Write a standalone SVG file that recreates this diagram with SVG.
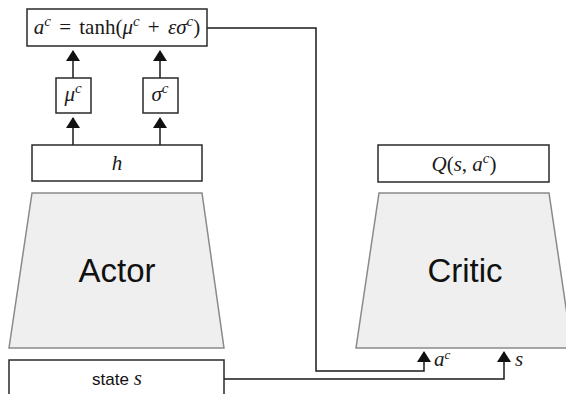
<svg xmlns="http://www.w3.org/2000/svg" width="566" height="394" viewBox="0 0 566 394">
<style>
.box{fill:#fff;stroke:#2a2a2a;stroke-width:1.5}
.net{fill:#efefef;stroke:#8a8a8a;stroke-width:1.5}
.conn{fill:none;stroke:#1a1a1a;stroke-width:1.5}
.m{font-family:"Liberation Serif",serif;font-style:italic;font-size:21px;fill:#1a1a1a}
.r{font-style:normal}
.big{font-family:"Liberation Sans",sans-serif;font-size:33px;fill:#111}
.lbl{font-family:"Liberation Sans",sans-serif;font-size:17px;fill:#111}
</style>
<defs>
<marker id="ah" viewBox="0 0 11 14" refX="10" refY="7" markerWidth="11" markerHeight="14" markerUnits="userSpaceOnUse" orient="auto">
<path d="M0,0 L11,7 L0,14 z" fill="#111"/>
</marker>
</defs>
<g id="connectors">
<line class="conn" x1="73" y1="78" x2="73" y2="51" marker-end="url(#ah)"/>
<line class="conn" x1="160" y1="78" x2="160" y2="51" marker-end="url(#ah)"/>
<line class="conn" x1="73" y1="145" x2="73" y2="118" marker-end="url(#ah)"/>
<line class="conn" x1="160" y1="145" x2="160" y2="118" marker-end="url(#ah)"/>
<path class="conn" d="M207,28 H316 V371 H424 V352" marker-end="url(#ah)"/>
<path class="conn" d="M224,379 H504 V352" marker-end="url(#ah)"/>
</g>
<g id="action">
<rect class="box" x="27" y="9" width="180" height="37"/>
<text class="m" x="117" y="34" text-anchor="middle" font-size="22" word-spacing="3">a<tspan dy="-8" font-size="15">c</tspan><tspan dy="8" class="r"> = tanh(</tspan>μ<tspan dy="-8" font-size="15">c</tspan><tspan dy="8" class="r"> + </tspan>εσ<tspan dy="-8" font-size="15">c</tspan><tspan dy="8" class="r">)</tspan></text>
</g>
<g id="mu">
<rect class="box" x="56" y="78" width="35" height="35"/>
<text class="m" x="73" y="101" text-anchor="middle">μ<tspan dy="-8" font-size="15">c</tspan></text>
</g>
<g id="sigma">
<rect class="box" x="143" y="78" width="35" height="35"/>
<text class="m" x="160" y="101" text-anchor="middle">σ<tspan dy="-8" font-size="15">c</tspan></text>
</g>
<g id="h">
<rect class="box" x="32" y="145" width="170" height="36"/>
<text class="m" x="117" y="170" text-anchor="middle">h</text>
</g>
<g id="actor">
<polygon class="net" points="32,193 202,193 224,348 9,348"/>
<text class="big" x="117" y="282" text-anchor="middle">Actor</text>
</g>
<g id="state">
<rect class="box" x="9" y="360" width="215" height="40"/>
<text x="117" y="385" text-anchor="middle"><tspan class="lbl">state </tspan><tspan class="m" font-size="20">s</tspan></text>
</g>
<g id="q">
<rect class="box" x="378" y="145" width="171" height="37"/>
<text class="m" x="464" y="171" text-anchor="middle">Q<tspan class="r">(</tspan>s<tspan class="r">, </tspan>a<tspan dy="-8" font-size="15">c</tspan><tspan dy="8" class="r">)</tspan></text>
</g>
<g id="critic">
<polygon class="net" points="379,193 549,193 572,348 356,348"/>
<text class="big" x="465" y="282" text-anchor="middle">Critic</text>
</g>
<g id="input-labels">
<text class="m" x="434" y="366" font-size="19">a<tspan dy="-7" font-size="13">c</tspan></text>
<text class="m" x="515" y="366" font-size="19">s</text>
</g>
</svg>
